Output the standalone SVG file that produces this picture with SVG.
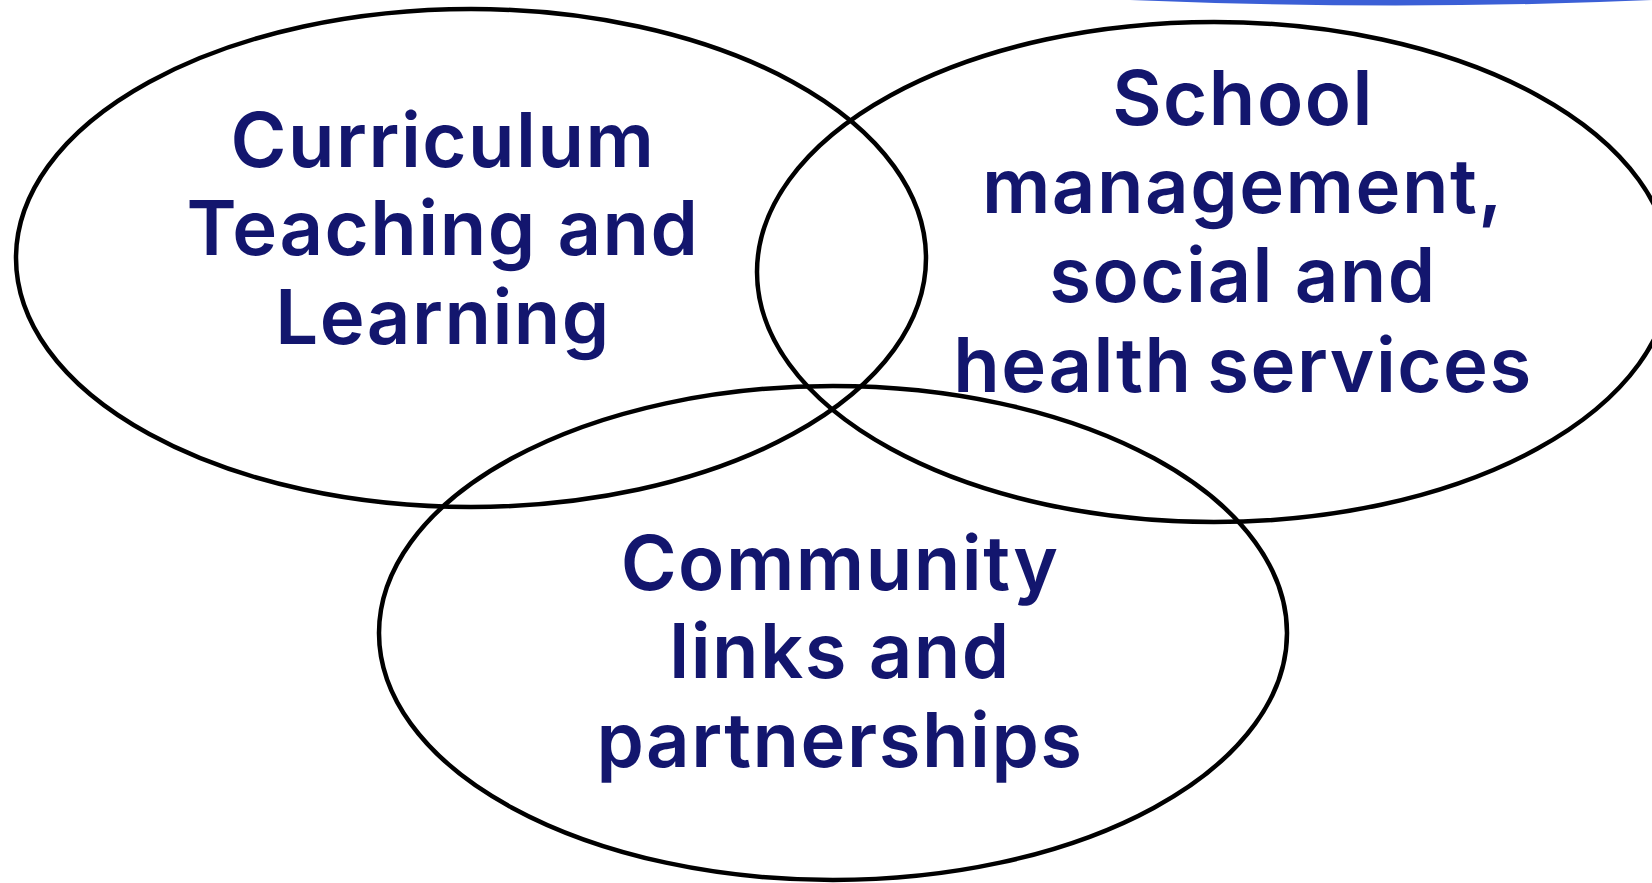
<svg xmlns="http://www.w3.org/2000/svg" width="1652" height="883" viewBox="0 0 1652 883">
<style>
.ring{fill:none;stroke:#000;stroke-width:4.5}
.lbl{font-family:Inter,"Noto Sans","Liberation Sans",sans-serif;font-weight:600;font-size:76px;letter-spacing:1.5px;fill:#13166e;text-anchor:middle}
</style>
<rect width="1652" height="883" fill="#fff"/>
<path d="M1130,0 Q1400,11 1652,0 Z" fill="#3b5fd6"/>
<g id="curriculum">
<ellipse class="ring" cx="471" cy="258" rx="455" ry="249"/>
<text class="lbl"><tspan x="443" y="167">Curriculum</tspan><tspan x="443" y="255">Teaching and</tspan><tspan x="443" y="344">Learning</tspan></text>
</g>
<g id="school">
<ellipse class="ring" cx="1214" cy="272" rx="457" ry="250"/>
<text class="lbl"><tspan x="1243" y="125">School</tspan><tspan x="1243" y="213">management,</tspan><tspan x="1243" y="302">social and</tspan><tspan x="1243" y="392" word-spacing="-6">health services</tspan></text>
</g>
<g id="community">
<ellipse class="ring" cx="833" cy="633" rx="454" ry="247"/>
<text class="lbl"><tspan x="840" y="590">Community</tspan><tspan x="840" y="678">links and</tspan><tspan x="840" y="767">partnerships</tspan></text>
</g>
<g id="connectors"/>
</svg>
